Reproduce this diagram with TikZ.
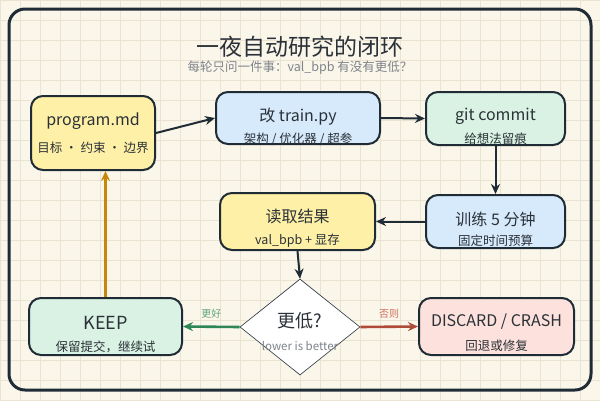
\documentclass[tikz,border=0pt]{standalone}
\usepackage{fontspec}
\setmainfont{Noto Sans CJK SC}
\usetikzlibrary{arrows.meta,shapes.geometric}
\definecolor{ink}{HTML}{1F2B35}
\definecolor{txtdark}{HTML}{2B3138}
\definecolor{txtgray}{HTML}{7E848B}
\definecolor{paper}{HTML}{FBF6EA}
\definecolor{gridc}{HTML}{EBE3D2}
\definecolor{yel}{HTML}{FEF0A6}
\definecolor{blu}{HTML}{D7EAFC}
\definecolor{grn}{HTML}{DAF2E3}
\definecolor{pnk}{HTML}{FDE1DC}
\definecolor{okgreen}{HTML}{2E8656}
\definecolor{okgreenl}{HTML}{5FA57A}
\definecolor{badred}{HTML}{B04A38}
\definecolor{badredl}{HTML}{CC6E5C}
\definecolor{loopor}{HTML}{C8870C}

\begin{document}
\begin{tikzpicture}[x=1pt,y=-1pt,>=Stealth,
  stepbox/.style={draw=ink,line width=2pt,rounded corners=12pt,inner sep=0pt},
  maintxt/.style={font=\fontsize{16}{18}\selectfont,text=txtdark},
  subtxt/.style={font=\fontsize{12.5}{14}\selectfont,text=txtdark},
  flow/.style={-{Stealth[length=10pt,width=9pt]},draw=ink,line width=2pt},
  branchlbl/.style={font=\fontsize{10}{12}\selectfont,yshift=4pt}]
  % paper and grid
  \useasboundingbox (0,0) rectangle (600,400);
  \fill[paper] (0,0) rectangle (600,400);
  \foreach \gx in {0,20,...,600}
    \draw[gridc,line width=0.8pt] (\gx,0) -- (\gx,400);
  \foreach \gy in {0,20,...,400}
    \draw[gridc,line width=0.8pt] (0,\gy) -- (600,\gy);
  % outer frame
  \draw[ink,line width=3pt,rounded corners=16pt] (9,9) rectangle (591,390);
  % title
  \node[font=\fontsize{23}{26}\selectfont,text=txtdark] (title) at (300,47) {一夜自动研究的闭环};
  \node[font=\fontsize{12.5}{14}\selectfont,text=txtgray] (subtitle) at (300,68) {每轮只问一件事：val\_bpb 有没有更低？};
  % steps
  \node[stepbox,fill=yel,minimum width=124pt,minimum height=74pt] (prog) at (93,133) {};
  \node[stepbox,fill=blu,minimum width=164pt,minimum height=52pt] (train) at (298,118) {};
  \node[stepbox,fill=grn,minimum width=139pt,minimum height=53pt] (commit) at (495.5,118.5) {};
  \node[stepbox,fill=blu,minimum width=139pt,minimum height=53pt] (run) at (495.5,221.5) {};
  \node[stepbox,fill=yel,minimum width=155pt,minimum height=57pt] (read) at (297.5,221.5) {};
  \node[draw=ink,line width=0.6pt,fill=white,diamond,inner sep=0pt,
        minimum width=120pt,minimum height=96pt] (dec) at (300,327) {};
  \node[stepbox,fill=grn,minimum width=153pt,minimum height=57pt] (keep) at (105.5,326.5) {};
  \node[stepbox,fill=pnk,minimum width=155pt,minimum height=57pt] (disc) at (496.5,326.5) {};
  % connectors
  \draw[flow] (prog.east) -- (train.west);
  \draw[flow] (train.east) -- (commit.west);
  \draw[flow] (commit.south) -- (run.north);
  \draw[flow] (run.west) -- (read.east);
  \draw[flow] (read.south) -- (dec.north);
  \draw[flow,draw=okgreen,line width=2.6pt] (dec.west) -- (keep.east)
    node[midway,above,branchlbl,text=okgreenl] {更好};
  \draw[flow,draw=badred,line width=2.6pt] (dec.east) -- (disc.west)
    node[midway,above,branchlbl,text=badredl] {否则};
  \draw[flow,draw=loopor,line width=2.4pt] (keep.north) -- (keep.north |- prog.south);
  % texts
  \node[maintxt] (progt) at (93,121) {program.md};
  \node[subtxt] (progs) at (93,148) {目标 · 约束 · 边界};
  \node[maintxt] (traint) at (298,117) {改 train.py};
  \node[subtxt] (trains) at (298,139) {架构 / 优化器 / 超参};
  \node[maintxt] (committ) at (495.5,116) {git commit};
  \node[subtxt] (commits) at (495.5,139) {给想法留痕};
  \node[maintxt] (runt) at (495.5,219) {训练 5 分钟};
  \node[subtxt] (runs) at (495.5,241) {固定时间预算};
  \node[maintxt] (readt) at (297.5,216) {读取结果};
  \node[subtxt] (reads) at (297.5,241) {val\_bpb + 显存};
  \node[maintxt,font=\fontsize{18}{20}\selectfont] (dect) at (300,321) {更低?};
  \node[font=\fontsize{11.5}{13}\selectfont,text=txtgray] (decs) at (300,346) {lower is better};
  \node[maintxt,font=\fontsize{18}{20}\selectfont] (keept) at (105.5,323) {KEEP};
  \node[subtxt] (keeps) at (105.5,347) {保留提交，继续试};
  \node[maintxt] (disct) at (496.5,322) {DISCARD / CRASH};
  \node[subtxt] (discs) at (496.5,346) {回退或修复};
\end{tikzpicture}
\end{document}
